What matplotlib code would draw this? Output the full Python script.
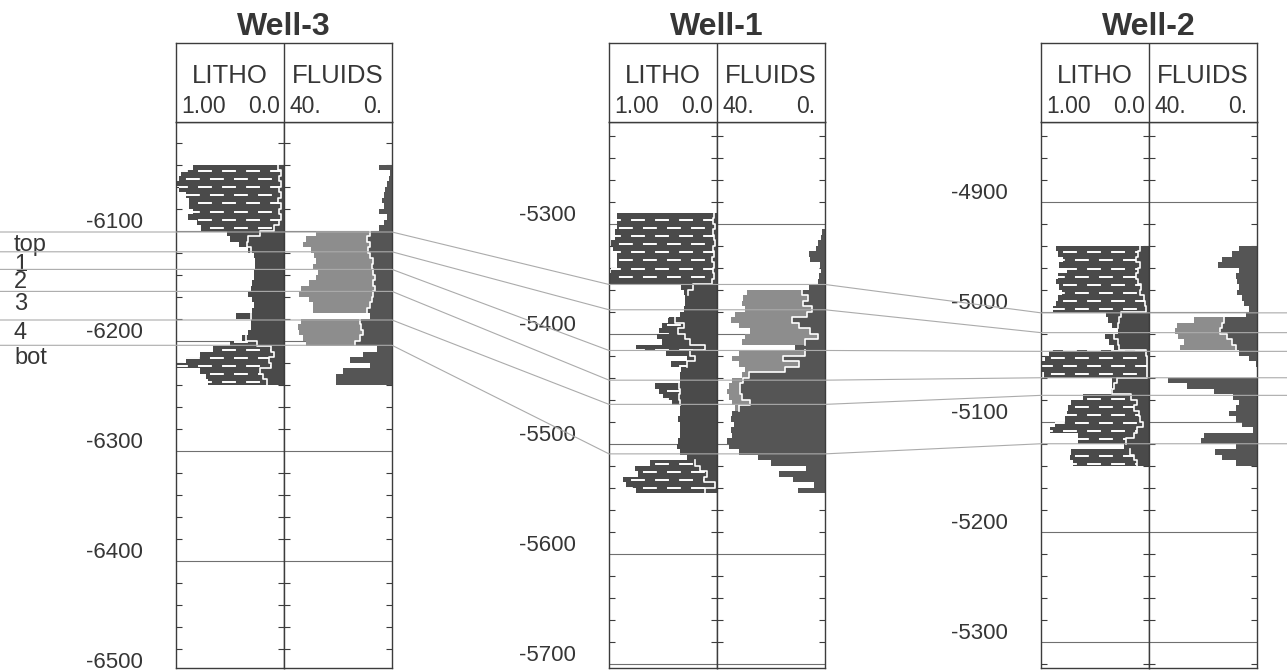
import numpy as np
import matplotlib.pyplot as plt
import matplotlib.transforms as mtransforms
from matplotlib.lines import Line2D
from matplotlib.path import Path
from matplotlib.ticker import MultipleLocator

plt.rcParams['font.family'] = ['Liberation Sans', 'DejaVu Sans']
plt.rcParams['lines.scale_dashes'] = False

STEP = 5.0

marker_names = ['top', '1', '2', '3', '4', 'bot']

# ---- Well-3 -------------------------------------------------------------
w3_first = -6040.0
w3_litho = [0.84, 0.95, 0.97, 1.00, 0.97, 0.91, 0.88, 0.88, 0.84, 0.89,
            0.81, 0.77, 0.53, 0.50, 0.42, 0.33, 0.28, 0.27, 0.27, 0.28,
            0.28, 0.30, 0.31, 0.33, 0.30, 0.28, 0.30, 0.44, 0.31, 0.31,
            0.33, 0.39, 0.50, 0.66, 0.78, 0.91, 1.00, 0.78, 0.72, 0.70]
w3_vsh = [0.06, 0.03, 0.05, 0.03, 0.05, 0.03, 0.06, 0.03, 0.05, 0.03,
          0.05, 0.09, 0.22, 0.33, 0.34, 0.31, 0.28, 0.27, 0.27, 0.28,
          0.28, 0.30, 0.31, 0.33, 0.30, 0.28, 0.30, 0.31, 0.31, 0.31,
          0.33, 0.35, 0.25, 0.12, 0.09, 0.14, 0.12, 0.22, 0.19, 0.16]
w3_fluid = [5.0, 0.6, 1.2, 1.9, 2.5, 3.1, 3.8, 3.1, 5.0, 1.9,
            3.1, 5.0, 28.0, 31.9, 33.1, 30.0, 28.8, 28.1, 29.4, 27.5,
            28.1, 30.6, 33.8, 34.4, 30.6, 29.4, 29.4, 8.0, 33.8, 35.0,
            34.4, 33.1, 31.9, 5.6, 10.6, 15.6, 8.1, 18.1, 20.6, 20.6]
w3_fluid_in = [5.0, 0.6, 1.2, 1.9, 2.5, 3.1, 3.8, 3.1, 5.0, 1.9,
               3.1, 5.0, 8.1, 9.4, 8.1, 8.8, 8.1, 6.9, 7.5, 6.9,
               6.3, 6.9, 6.3, 6.9, 7.5, 8.1, 9.4, 8.0, 11.9, 11.3,
               10.6, 11.9, 13.8, 5.6, 10.6, 15.6, 8.1, 18.1, 20.6, 20.6]
w3_shale = [(-6040, -6100), (-6200, -6240)]
w3_markers = [-6101, -6119, -6135, -6155, -6181, -6204]
w3_labels = [-6100, -6200, -6300, -6400, -6500]

# ---- Well-1 -------------------------------------------------------------
w1_first = -5290.0
w1_litho = [0.93, 0.93, 0.93, 0.94, 0.94, 0.98, 0.96, 0.93, 0.93, 0.93,
            0.98, 0.99, 1.00, 0.33, 0.31, 0.30, 0.30, 0.31, 0.34, 0.45,
            0.51, 0.54, 0.56, 0.51, 0.75, 0.47, 0.28, 0.43, 0.33, 0.34,
            0.34, 0.57, 0.54, 0.50, 0.42, 0.34, 0.34, 0.36, 0.34, 0.34,
            0.34, 0.36, 0.37, 0.34, 0.28, 0.62, 0.76, 0.73, 0.87, 0.84,
            0.75]
w1_vsh = [0.03, 0.04, 0.02, 0.04, 0.03, 0.02, 0.04, 0.03, 0.05, 0.03,
          0.04, 0.03, 0.05, 0.22, 0.27, 0.30, 0.30, 0.31, 0.34, 0.39,
          0.31, 0.36, 0.30, 0.25, 0.11, 0.25, 0.20, 0.28, 0.33, 0.34,
          0.34, 0.35, 0.34, 0.35, 0.34, 0.34, 0.34, 0.36, 0.34, 0.34,
          0.34, 0.36, 0.37, 0.34, 0.28, 0.20, 0.16, 0.09, 0.12, 0.02,
          0.11]
w1_fluid = [0.0, 0.0, 0.0, 1.2, 1.6, 2.5, 3.4, 5.9, 5.5, 2.0,
            1.6, 2.2, 2.5, 6.0, 28.9, 30.2, 30.8, 29.5, 33.2, 35.0,
            32.0, 27.7, 29.5, 30.8, 11.0, 32.0, 34.5, 32.0, 29.5, 30.8,
            34.5, 35.7, 36.3, 35.7, 34.5, 33.2, 34.5, 35.0, 33.8, 35.0,
            34.5, 36.3, 35.7, 32.0, 25.0, 20.0, 7.0, 17.0, 12.0, 4.0,
            10.0]
w1_fluid_in = [0.0, 0.0, 0.0, 1.2, 1.6, 2.5, 3.4, 5.9, 5.5, 2.0,
               1.6, 2.2, 2.5, 6.0, 8.6, 6.2, 8.0, 4.9, 6.8, 12.3,
               9.8, 5.5, 2.5, 7.4, 11.0, 7.4, 15.4, 9.8, 14.8, 28.3,
               30.2, 31.4, 31.4, 30.8, 27.7, 32.0, 34.5, 35.0, 33.8, 35.0,
               34.5, 36.3, 35.7, 32.0, 25.0, 20.0, 7.0, 17.0, 12.0, 4.0,
               10.0]
w1_shale = [(-5290, -5355), (-5385, -5400), (-5410, -5415), (-5425, -5430),
            (-5445, -5460), (-5515, -5545)]
w1_markers = [-5355, -5378, -5415, -5442, -5464, -5509]
w1_labels = [-5300, -5400, -5500, -5600, -5700]

# ---- Well-2 -------------------------------------------------------------
w2_first = -4940.0
w2_litho = [0.86, 0.84, 0.80, 0.83, 0.76, 0.84, 0.86, 0.83, 0.81, 0.84,
            0.86, 0.89, 0.40, 0.38, 0.34, 0.29, 0.41, 0.37, 0.32, 0.93,
            0.96, 0.99, 1.00, 0.97, 0.34, 0.34, 0.35, 0.61, 0.72, 0.75,
            0.76, 0.78, 0.87, 0.92, 0.66, 0.66, 0.23, 0.72, 0.73, 0.70]
w2_vsh = [0.08, 0.10, 0.12, 0.08, 0.10, 0.12, 0.10, 0.07, 0.08, 0.05,
          0.04, 0.03, 0.26, 0.28, 0.29, 0.29, 0.32, 0.29, 0.28, 0.03,
          0.02, 0.02, 0.02, 0.02, 0.30, 0.32, 0.34, 0.17, 0.11, 0.14,
          0.09, 0.08, 0.06, 0.11, 0.14, 0.21, 0.23, 0.18, 0.14, 0.11]
w2_fluid = [6.7, 9.2, 13.0, 14.4, 6.7, 7.9, 7.3, 6.7, 7.3, 5.4,
            4.7, 2.8, 4.1, 23.3, 29.7, 30.4, 29.1, 27.2, 28.5, 6.7,
            2.8, 0.3, 0.0, 0.0, 33.0, 26.0, 16.0, 9.0, 6.7, 7.9,
            10.5, 7.9, 5.4, 1.5, 19.5, 20.8, 7.9, 15.6, 13.0, 7.9]
w2_fluid_in = [6.7, 9.2, 13.0, 14.4, 6.7, 7.9, 7.3, 6.7, 7.3, 5.4,
               4.7, 2.8, 4.1, 12.4, 13.0, 13.7, 11.2, 9.2, 7.9, 6.7,
               2.8, 0.3, 0.0, 0.0, 33.0, 26.0, 16.0, 9.0, 6.7, 7.9,
               10.5, 7.9, 5.4, 1.5, 19.5, 20.8, 7.9, 15.6, 13.0, 7.9]
w2_shale = [(-4940, -5000), (-5035, -5060), (-5075, -5120), (-5125, -5140)]
w2_markers = [-5001, -5019, -5036, -5060, -5076, -5120]
w2_labels = [-4900, -5000, -5100, -5200, -5300]

# ---- layout (pixels) ----------------------------------------------------
W, H = 1287, 672
TRACK_W = 108
HEAD_TOP, DATA_TOP, DATA_BOT = 43, 122, 668
SPAN = (DATA_BOT - DATA_TOP) / 1.1       # ft shown in a track

TEXT = '#363636'
FRAME = '#3c3c3c'
GRID = '#707070'
LITHO_FILL = '#4a4a4a'
FLUID_DARK = '#555555'
FLUID_LIGHT = '#8d8d8d'
CORR = '#ababab'


def rect(x0, y0, w, h):
    return [x0 / W, 1 - (y0 + h) / H, w / W, h / H]


def blocks(first, values):
    values = np.asarray(values, float)
    d = first - STEP * np.arange(len(values))
    y = np.column_stack([d, d - STEP]).ravel()
    return y, np.repeat(values, 2)


def bed_mask(first, n, beds):
    d = first - STEP * np.arange(n)
    m = np.zeros(n, bool)
    for b_top, b_base in beds:
        m |= (d <= b_top) & (d > b_base)
    return np.repeat(m, 2)


def style_track(ax, window_top):
    ax.set_ylim(window_top - SPAN, window_top)
    ax.yaxis.set_major_locator(MultipleLocator(100))
    ax.yaxis.set_minor_locator(MultipleLocator(20))
    ax.set_axisbelow(True)
    ax.grid(axis='y', which='major', color=GRID, lw=0.8)
    ax.tick_params(axis='y', which='major', length=0, labelleft=False)
    ax.tick_params(axis='y', which='minor', direction='in', left=True,
                   right=True, length=4.2, width=0.8, color=FRAME)
    ax.set_xticks([])
    for sp in ax.spines.values():
        sp.set_color(FRAME)
        sp.set_linewidth(1.0)


def draw_well(fig, left, name, window_top, first, litho, vsh, fluid,
              fluid_in, shale, labels):
    ax_l = fig.add_axes(rect(left, DATA_TOP, TRACK_W, DATA_BOT - DATA_TOP))
    ax_f = fig.add_axes(rect(left + TRACK_W, DATA_TOP, TRACK_W,
                             DATA_BOT - DATA_TOP))
    ax_h = fig.add_axes(rect(left, HEAD_TOP, 2 * TRACK_W, DATA_TOP - HEAD_TOP))

    ax_l.set_xlim(1.0, 0.0)
    ax_f.set_xlim(40.0, 0.0)
    style_track(ax_l, window_top)
    style_track(ax_f, window_top)

    # lithology track
    y, lo = blocks(first, litho)
    _, vs = blocks(first, vsh)
    sh = bed_mask(first, len(litho), shale)
    ax_l.fill_betweenx(y, 0, lo, color=LITHO_FILL, lw=0, zorder=1)
    shale_poly = ax_l.fill_betweenx(y, vs, lo, where=sh, color=LITHO_FILL,
                                    lw=0, zorder=1)
    rows = np.arange(window_top, window_top - SPAN, -7.4)
    styles = [(0, (10, 7.3)) if i % 2 == 0 else (8.6, (10, 7.3))
              for i in range(len(rows))]
    dashes = ax_l.hlines(rows, 0, 1, colors='white', lw=1.4,
                         linestyles=styles, zorder=2)
    paths = shale_poly.get_paths()
    if paths:
        dashes.set_clip_path(Path.make_compound_path(*paths), ax_l.transData)
    ax_l.plot(np.where(lo - vs > 0.005, vs, np.nan), y, color='white',
              lw=1.2, zorder=3)

    # fluids track
    _, fo = blocks(first, fluid)
    _, fi = blocks(first, fluid_in)
    ax_f.fill_betweenx(y, fi, fo, color=FLUID_LIGHT, lw=0, zorder=1)
    ax_f.fill_betweenx(y, 0, fi, color=FLUID_DARK, lw=0, zorder=1)
    ax_f.plot(np.where(fo - fi > 0.05, fi, np.nan), y, color='white',
              lw=1.2, zorder=3)

    # depth labels, sitting just above their grid line
    trans = mtransforms.offset_copy(ax_l.get_yaxis_transform(), fig=fig,
                                    y=3, units='dots')
    for d in labels:
        ax_l.text(-0.31, d, f'{d}', transform=trans, ha='right',
                  va='baseline', fontsize=16, color=TEXT, clip_on=False)

    # header
    ax_h.set_xlim(0, 2)
    ax_h.set_ylim(0, 1)
    ax_h.set_xticks([])
    ax_h.set_yticks([])
    for sp in ax_h.spines.values():
        sp.set_color(FRAME)
        sp.set_linewidth(1.0)
    ax_h.axvline(1, color=FRAME, lw=1.0)
    ax_h.text(0.5, 0.494, 'LITHO', ha='center', va='baseline', fontsize=18.5,
              color=TEXT)
    ax_h.text(1.5, 0.494, 'FLUIDS', ha='center', va='baseline',
              fontsize=18.5, color=TEXT)
    ax_h.text(0.05, 0.114, '1.00', ha='left', va='baseline', fontsize=16.5,
              color=TEXT)
    ax_h.text(0.96, 0.114, '0.0', ha='right', va='baseline', fontsize=16.5,
              color=TEXT)
    ax_h.text(1.05, 0.114, '40.', ha='left', va='baseline', fontsize=16.5,
              color=TEXT)
    ax_h.text(1.91, 0.114, '0.', ha='right', va='baseline', fontsize=16.5,
              color=TEXT)
    ax_h.text(1.0, 1.10, name, ha='center', va='baseline', fontsize=23,
              fontweight='bold', color=TEXT, clip_on=False)
    return ax_l, ax_f


fig = plt.figure(figsize=(W / 100, H / 100), dpi=100)

w3_l, w3_f = draw_well(fig, 176, 'Well-3', -6001.0, w3_first, w3_litho,
                       w3_vsh, w3_fluid, w3_fluid_in, w3_shale, w3_labels)
w1_l, w1_f = draw_well(fig, 609, 'Well-1', -5207.3, w1_first, w1_litho,
                       w1_vsh, w1_fluid, w1_fluid_in, w1_shale, w1_labels)
w2_l, w2_f = draw_well(fig, 1041, 'Well-2', -4827.5, w2_first, w2_litho,
                       w2_vsh, w2_fluid, w2_fluid_in, w2_shale, w2_labels)

# correlation lines: across Well-3, over to Well-1 and Well-2, out to the edge
to_fig = fig.transFigure.inverted()


def anchor(ax, xfrac, depth):
    return to_fig.transform(ax.get_yaxis_transform().transform((xfrac, depth)))


lab_trans = mtransforms.offset_copy(
    mtransforms.blended_transform_factory(fig.transFigure, w3_l.transData),
    fig=fig, y=-2, units='dots')

for name, d3, d1, d2 in zip(marker_names, w3_markers, w1_markers, w2_markers):
    pts = [anchor(w3_l, 0, d3), anchor(w3_f, 1, d3),
           anchor(w1_l, 0, d1), anchor(w1_f, 1, d1),
           anchor(w2_l, 0, d2), anchor(w2_f, 1, d2)]
    xs = [0.0] + [p[0] for p in pts] + [1.0]
    ys = [pts[0][1]] + [p[1] for p in pts] + [pts[-1][1]]
    fig.add_artist(Line2D(xs, ys, transform=fig.transFigure, color=CORR,
                          lw=0.8, zorder=5))
    fig.text(14 / W, d3, name, transform=lab_trans, ha='left', va='top',
             fontsize=17, color=TEXT)

fig.savefig('out.png', dpi=100, facecolor='white')
